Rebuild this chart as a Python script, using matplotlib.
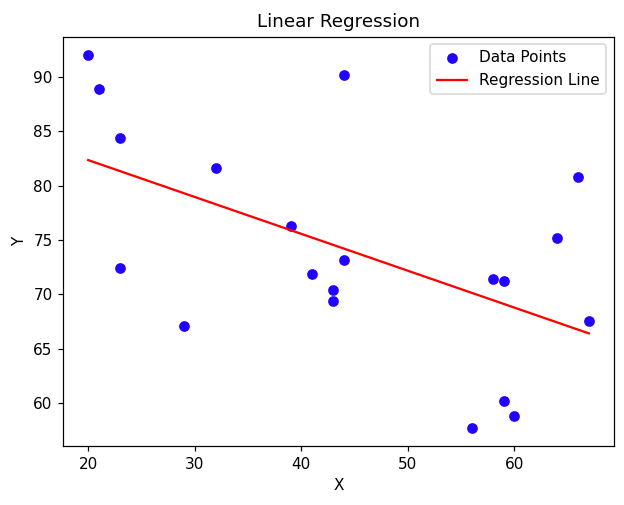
import numpy as np
import matplotlib
matplotlib.use("Agg")
import matplotlib.pyplot as plt

x = [20, 21, 23, 23, 29, 32, 39, 41, 43, 43, 44, 44, 56, 58, 59, 59, 60, 64, 66, 67]
y = [92.0, 88.9, 84.4, 72.4, 67.1, 81.65, 76.25, 71.85, 70.4, 69.4, 73.2, 90.2,
     57.75, 71.4, 71.25, 60.2, 58.8, 75.2, 80.8, 67.55]

xa = np.array(x, dtype=float)
ya = np.array(y, dtype=float)
slope, intercept = np.polyfit(xa, ya, 1)
pred = slope * xa + intercept

DPI = 110
fig = plt.figure(figsize=(624 / DPI, 505 / DPI), dpi=DPI)
ax = fig.add_axes([63.2 / 624, 1 - 446.3 / 505, (613.8 - 63.2) / 624, (446.3 - 36.6) / 505])
ax.scatter(xa, ya, color="#2200ff", label="Data Points")
ax.plot(xa, pred, color="red", label="Regression Line")
ax.set_title("Linear Regression")
ax.set_xlabel("X")
ax.set_ylabel("Y")
ax.legend(loc="upper right")
fig.savefig("out.png", dpi=DPI)
